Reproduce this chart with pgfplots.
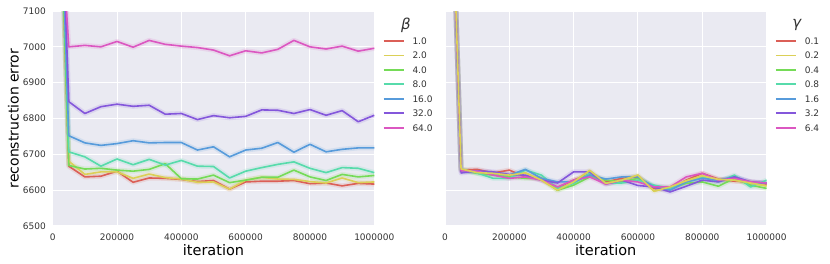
\documentclass[border=0pt]{standalone}
\usepackage{pgfplots}
\pgfplotsset{compat=1.18}
\usepackage{pgfplotstable}
\usepackage{fontspec}
\setmainfont{DejaVu Sans}
\definecolor{c1}{HTML}{DB5F57}
\definecolor{c2}{HTML}{DBD057}
\definecolor{c3}{HTML}{75DB57}
\definecolor{c4}{HTML}{57DBAB}
\definecolor{c5}{HTML}{579BDB}
\definecolor{c6}{HTML}{8457DB}
\definecolor{c7}{HTML}{DB57C1}
\definecolor{bg}{HTML}{EAEAF2}
\definecolor{tx}{HTML}{333333}

\pgfplotstableread{
x r y g t b p k
0 8110 8078 8106 8219 8090 8112 7714
50000 6667 6681 6669 6707 6752 6847 7000
100000 6637 6644 6659 6693 6732 6814 7004
150000 6639 6651 6661 6667 6725 6833 7000
200000 6653 6651 6656 6687 6730 6840 7015
250000 6622 6633 6653 6671 6738 6834 6999
300000 6634 6645 6658 6686 6732 6837 7018
350000 6633 6635 6674 6670 6733 6812 7007
400000 6630 6631 6632 6683 6733 6814 7002
450000 6624 6622 6631 6667 6712 6797 6998
500000 6627 6623 6642 6666 6721 6808 6991
550000 6603 6603 6621 6634 6693 6802 6975
600000 6623 6628 6628 6653 6712 6806 6989
650000 6625 6636 6636 6663 6717 6824 6983
700000 6625 6631 6636 6672 6733 6823 6993
750000 6627 6630 6656 6679 6706 6814 7018
800000 6618 6624 6637 6661 6728 6825 7000
850000 6620 6620 6627 6649 6707 6809 6994
900000 6612 6634 6644 6663 6714 6822 7002
950000 6619 6621 6637 6661 6718 6791 6988
1000000 6617 6623 6641 6649 6718 6809 6996
}\Ltab

\pgfplotstableread{
x r y g t b p k
0 8050 8050 8050 8050 8050 8050 8050
50000 6656 6659 6656 6658 6654 6648 6654
100000 6658 6649 6647 6648 6651 6654 6653
150000 6648 6647 6642 6633 6647 6651 6642
200000 6656 6642 6637 6633 6642 6644 6633
250000 6637 6648 6633 6656 6658 6642 6637
300000 6633 6628 6633 6642 6633 6628 6628
350000 6607 6600 6600 6605 6623 6620 6609
400000 6628 6623 6614 6619 6623 6651 6628
450000 6645 6655 6637 6647 6642 6651 6637
500000 6623 6619 6628 6620 6631 6617 6617
550000 6633 6628 6623 6620 6637 6628 6628
600000 6637 6642 6633 6628 6637 6613 6623
650000 6605 6597 6609 6614 6609 6609 6609
700000 6602 6609 6605 6605 6600 6595 6609
750000 6628 6626 6619 6623 6623 6611 6637
800000 6647 6640 6623 6637 6633 6628 6647
850000 6631 6630 6611 6623 6628 6623 6628
900000 6625 6628 6633 6642 6637 6637 6633
950000 6623 6620 6614 6609 6623 6623 6623
1000000 6617 6612 6605 6628 6619 6620 6620
}\Rtab

\pgfplotsset{
  myax/.style={
    scale only axis, width=321.6bp, height=215bp,
    xmin=0, xmax=1000000, ymin=6500, ymax=7100,
    scaled x ticks=false, scaled y ticks=false,
    axis background/.style={fill=bg},
    axis line style={draw=none},
    major tick length=0pt,
    grid=major, grid style={white, line width=1bp},
    xtick={0,200000,400000,600000,800000,1000000},
    xticklabels={0,200000,400000,600000,800000,1000000},
    ytick={6500,6600,6700,6800,6900,7000,7100},
    tick label style={font=\fontsize{9bp}{9bp}\selectfont, text=tx, inner sep=0pt},
    xticklabel style={anchor=north, yshift=-7.5bp},
    yticklabel style={anchor=east, xshift=-6.7bp},
    /pgf/number format/assume math mode=true,
    xlabel={iteration},
    xlabel style={font=\fontsize{14.5bp}{14.5bp}\selectfont, text=black, inner sep=0pt,
      at={(axis description cs:0.5,0)}, anchor=north, yshift=-18.5bp},
    legend style={at={(rel axis cs:1,1)}, anchor=north west, xshift=8.4bp, yshift=-26.5bp,
      draw=none, fill=none, inner sep=0pt, outer sep=0pt, row sep=7.45bp, column sep=8bp,
      font=\fontsize{9bp}{9bp}\selectfont, text=tx,
      nodes={inner sep=0pt, text height=7bp, text depth=0pt}, cells={anchor=west}},
    legend image code/.code={\draw[#1, line width=1.8bp] (0bp,0bp) -- (20bp,0bp);},
  },
  band/.style={line width=5bp, opacity=0.15, line join=round, forget plot},
  ln/.style={line width=1.6bp, line join=round},
}

\begin{document}
\begin{tikzpicture}
\useasboundingbox (0,0) rectangle (830bp,264bp);
\begin{axis}[myax, name=L, at={(52.7bp,38bp)}, anchor=south west,
  yticklabels={6500,6600,6700,6800,6900,7000,7100},
  ylabel={reconstruction error},
  ylabel style={font=\fontsize{14bp}{14bp}\selectfont, text=black, inner sep=0pt,
    at={(axis description cs:-0.1225,0.5)}, anchor=center}]
\foreach \c/\s in {c1/r,c2/y,c3/g,c4/t,c5/b,c6/p,c7/k}{
  \edef\tmp{\noexpand\addplot[\c, band] table[x=x,y=\s]{\noexpand\Ltab};}\tmp
}
\addplot[c1, ln] table[x=x,y=r]{\Ltab}; \addlegendentry{1.0}
\addplot[c2, ln] table[x=x,y=y]{\Ltab}; \addlegendentry{2.0}
\addplot[c3, ln] table[x=x,y=g]{\Ltab}; \addlegendentry{4.0}
\addplot[c4, ln] table[x=x,y=t]{\Ltab}; \addlegendentry{8.0}
\addplot[c5, ln] table[x=x,y=b]{\Ltab}; \addlegendentry{16.0}
\addplot[c6, ln] table[x=x,y=p]{\Ltab}; \addlegendentry{32.0}
\addplot[c7, ln] table[x=x,y=k]{\Ltab}; \addlegendentry{64.0}
\end{axis}
\node[font=\fontsize{15bp}{15bp}\selectfont\itshape, text=tx, inner sep=0pt, xshift=31.7bp, yshift=-14bp] at (L.north east) {β};

\begin{axis}[myax, name=R, at={(445bp,38bp)}, anchor=south west,
  yticklabels={}]
\foreach \c/\s in {c1/r,c2/y,c3/g,c4/t,c5/b,c6/p,c7/k}{
  \edef\tmp{\noexpand\addplot[\c, band] table[x=x,y=\s]{\noexpand\Rtab};}\tmp
}
\addplot[c1, ln] table[x=x,y=r]{\Rtab}; \addlegendentry{0.1}
\addplot[c2, ln] table[x=x,y=y]{\Rtab}; \addlegendentry{0.2}
\addplot[c3, ln] table[x=x,y=g]{\Rtab}; \addlegendentry{0.4}
\addplot[c4, ln] table[x=x,y=t]{\Rtab}; \addlegendentry{0.8}
\addplot[c5, ln] table[x=x,y=b]{\Rtab}; \addlegendentry{1.6}
\addplot[c6, ln] table[x=x,y=p]{\Rtab}; \addlegendentry{3.2}
\addplot[c7, ln] table[x=x,y=k]{\Rtab}; \addlegendentry{6.4}
\addplot[c2, ln, forget plot] table[x=x,y=y]{\Rtab};
\end{axis}
\node[font=\fontsize{15bp}{15bp}\selectfont\itshape, text=tx, inner sep=0pt, xshift=30.2bp, yshift=-14bp] at (R.north east) {γ};
\end{tikzpicture}
\end{document}
